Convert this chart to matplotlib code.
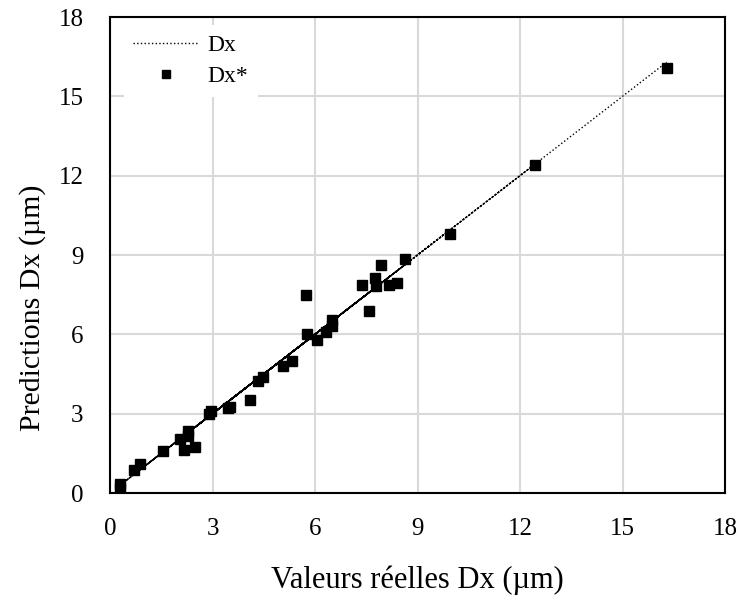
import matplotlib
matplotlib.use('Agg')
import matplotlib.pyplot as plt

# actual (x) and predicted (y) Dx values in um, in sample order
dx_real = [5.07, 0.71, 8.41, 2.17, 6.51, 0.28, 12.44, 3.44, 7.78, 1.56,
           9.95, 2.91, 6.07, 4.34, 7.39, 0.30, 5.73, 2.49, 8.64, 3.51,
           6.31, 0.88, 7.93, 2.05, 5.34, 4.10, 7.59, 2.29, 6.51, 2.96,
           8.16, 4.47, 7.77, 2.27, 5.78, 16.29]
dx_pred = [4.81, 0.87, 7.94, 1.63, 6.30, 0.35, 12.42, 3.23, 7.82, 1.59,
           9.80, 2.98, 5.80, 4.24, 7.85, 0.20, 7.50, 1.73, 8.85, 3.27,
           6.07, 1.09, 8.64, 2.05, 5.00, 3.52, 6.89, 2.35, 6.53, 3.10,
           7.88, 4.37, 8.13, 2.17, 6.01, 16.06]
ticks = [0, 3, 6, 9, 12, 15, 18]

plt.rcParams['font.family'] = ['Liberation Serif', 'DejaVu Serif']

fig = plt.figure(figsize=(7.39, 5.99), dpi=100)
ax = fig.add_axes([110 / 739, 1 - 493 / 599, 615 / 739, 476 / 599])

# reference line Dx = Dx, drawn through the samples in their order
ax.plot(dx_real, dx_real, color='black', linestyle=':', linewidth=1.0, label='Dx', zorder=3)
ax.plot(dx_real, dx_pred, linestyle='none', marker='s', markersize=7.5,
        color='black', label='Dx*', zorder=4)

ax.set_xlim(0, 18)
ax.set_ylim(0, 18)
ax.set_xticks(ticks)
ax.set_yticks(ticks)
ax.grid(True, color='#d9d9d9', linewidth=1.5, zorder=0)
ax.set_axisbelow(True)
ax.tick_params(length=0, labelsize=18)
ax.tick_params(axis='x', pad=18)
ax.tick_params(axis='y', pad=19)
for s in ax.spines.values():
    s.set_linewidth(1.5)
    s.set_color('black')

ax.set_xlabel('Valeurs réelles Dx (µm)', fontsize=22, va='center')
ax.xaxis.set_label_coords(0.5, -0.183)
ax.set_ylabel('Predictions Dx (µm)', fontsize=21.5, va='center', ha='center')
ax.yaxis.set_label_coords(-0.126, 0.39)

leg = ax.legend(loc='upper left', bbox_to_anchor=(0.003, 1.008), frameon=True,
                fontsize=17, borderpad=0.4, handlelength=2.8, handletextpad=0.35,
                labelspacing=0.41, markerscale=0.8, fancybox=False,
                edgecolor='none', framealpha=1)

fig.savefig('out.png', dpi=100)
